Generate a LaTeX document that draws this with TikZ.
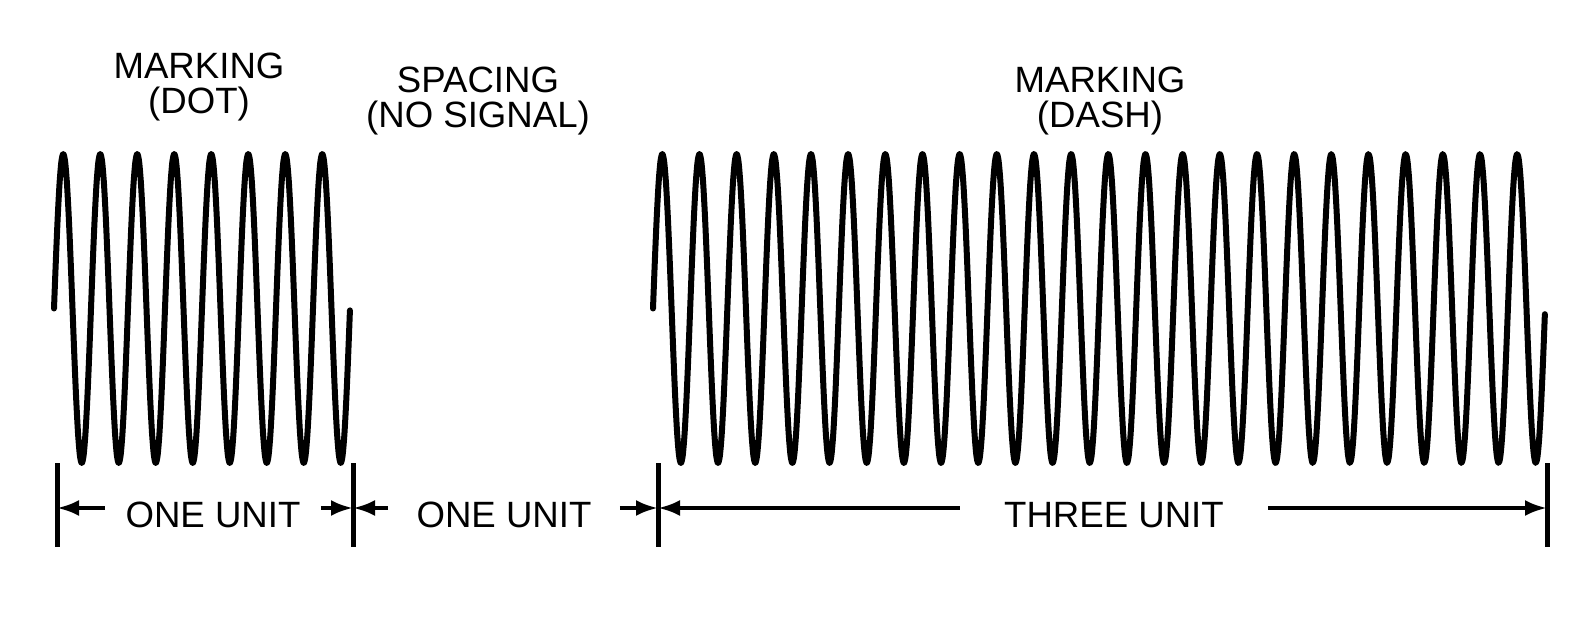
\documentclass[tikz,border=0pt]{standalone}
\usepackage{fontspec}
\setmainfont{Liberation Sans}
\usepackage{tikz}
\usetikzlibrary{arrows.meta}

\begin{document}
\begin{tikzpicture}[x=0.5pt, y=-0.5pt,
    wave/.style={line width=3pt, line join=round, line cap=round},
    tick/.style={line width=2.5pt},
    dim/.style={line width=2pt, -{Latex[length=11pt, width=8pt]}},
    title/.style={anchor=north, inner sep=0pt, align=center, font=\fontsize{18.3}{17.5}\selectfont},
    unit/.style={inner ysep=0pt, font=\fontsize{18.3}{17.5}\selectfont}]
          \useasboundingbox (0, 0) rectangle (1586, 620);
          \node [title] (dot) at (199, 53) {MARKING\\(DOT)};
          \node [title] (space) at (478, 67) {SPACING\\(NO SIGNAL)};
          \node [title] (dash) at (1100, 67) {MARKING\\(DASH)};
          \draw [wave] plot [smooth, domain=0:8, samples=161] ({54+37*\x}, {308.5-154.5*sin(360*\x)});
          \draw [wave] plot [smooth, domain=0:24, samples=481] ({653+37.17*\x}, {308.5-154.5*sin(360*\x)});
          \coordinate (t1) at (57, 508);
          \coordinate (t2) at (353, 508);
          \coordinate (t3) at (658, 508);
          \coordinate (t4) at (1547, 508);
          \foreach \t in {t1, t2, t3, t4}
            \draw [tick] ([yshift=22.5pt]\t) -- ([yshift=-19.5pt]\t);
          \node [unit, inner xsep=10pt] (u1) at (213, 515) {ONE UNIT};
          \node [unit, inner xsep=14pt] (u2) at (504, 515) {ONE UNIT};
          \node [unit, inner xsep=22pt] (u3) at (1114, 515) {THREE UNIT};
          \draw [dim] (u1.west |- t1) -- (t1);
          \draw [dim] (u1.east |- t1) -- (t2);
          \draw [dim] (u2.west |- t2) -- (t2);
          \draw [dim] (u2.east |- t2) -- (t3);
          \draw [dim] (u3.west |- t3) -- (t3);
          \draw [dim] (u3.east |- t3) -- (t4);
        \end{tikzpicture}
\end{document}
